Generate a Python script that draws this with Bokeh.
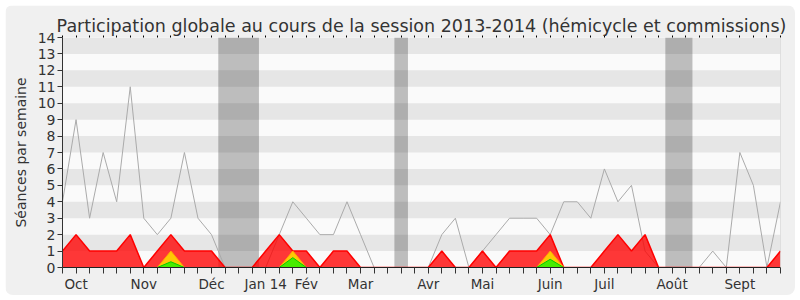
from bokeh.plotting import figure
from bokeh.models import LinearAxis, FixedTicker, Span, Range1d
from bokeh.embed import file_html
from bokeh.resources import INLINE

# Weekly data, session 2013-2014 (week index 0 .. 53)
weeks = list(range(54))
median_line = [4, 9, 3, 7, 4, 11, 3, 2, 3, 7, 3, 2, 0, 0, 0, 0, 2, 4, 3, 2,
               2, 4, 2, 0, 0, 0, 0, 0, 2, 3, 0, 1, 2, 3, 3, 3, 2, 4, 4, 3,
               6, 4, 5, 1, 0, 0, 0, 0, 1, 0, 7, 5, 0, 4]
presences = [1, 2, 1, 1, 1, 2, 0, 1, 2, 1, 1, 1, 0, 0, 0, 1, 2, 1, 1, 0,
             1, 1, 0, 0, 0, 0, 0, 0, 1, 0, 0, 1, 0, 1, 1, 1, 2, 0, 0, 0,
             1, 2, 1, 2, 0, 0, 0, 0, 0, 0, 0, 0, 0, 1]
participations = [0] * 54
participations[8] = 1
participations[17] = 1
participations[36] = 1
interventions = [0] * 54
interventions[8] = 0.35
interventions[17] = 0.6
interventions[36] = 0.5

vacation_start = [12, 25, 45]
vacation_end = [14, 25, 46]

month_weeks = [1, 6, 11, 15, 18, 22, 27, 31, 36, 40, 45, 50]
month_labels = ["Oct", "Nov", "Déc", "Jan 14", "Fév", "Mar", "Avr", "Mai",
                "Juin", "Juil", "Août", "Sept"]

y_max = 14
FONT = "DejaVu Sans"

p = figure(width=790, height=290, output_backend="svg", toolbar_location=None,
           x_range=Range1d(weeks[0], weeks[-1]), y_range=Range1d(0, y_max),
           min_border_left=57, min_border_right=15, min_border_top=32,
           min_border_bottom=28, x_axis_location=None, y_axis_location="left",
           margin=(5, 5, 5, 5))
p.styles = {"border-radius": "8px", "overflow": "hidden"}
p.title.text = "Participation globale au cours de la session 2013-2014 (hémicycle et commissions)"
p.title.text_font = FONT
p.title.text_font_size = "17.5px"
p.title.text_font_style = "normal"
p.title.text_color = "#333333"
p.title.align = "center"
p.title.standoff = 0
p.border_fill_color = "#f0f0f0"
p.background_fill_color = "#fafafa"
p.outline_line_color = None
p.xgrid.visible = False
p.ygrid.visible = False

# vacation periods
p.quad(left=[s - 0.5 for s in vacation_start], right=[e + 0.5 for e in vacation_end],
       bottom=0, top=y_max, fill_color="#bdbdbd", line_color=None)

# alternating bands
band_lo = list(range(1, y_max, 2))
p.quad(left=weeks[0], right=weeks[-1], bottom=band_lo, top=[b + 1 for b in band_lo],
       fill_color="#000000", fill_alpha=0.08, line_color=None)

# median line
p.line(weeks, median_line, line_color="#aaaaaa", line_width=1)

# presences (red)
p.varea(x=weeks, y1=0, y2=presences, fill_color="#ff0000", fill_alpha=0.78)
p.line(weeks, presences, line_color="#ff0000", line_width=1.5)
# participations (yellow)
p.varea(x=weeks, y1=0, y2=participations, fill_color="#ffd700", fill_alpha=0.9)
p.line(weeks, participations, line_color="#ffaa00", line_width=1)
# interventions (green)
p.varea(x=weeks, y1=0, y2=interventions, fill_color="#33ee00", fill_alpha=0.9)
p.line(weeks, interventions, line_color="#00cc00", line_width=1)

p.add_layout(Span(location=weeks[-1], dimension="height", line_color="#c8c8c8", line_width=1))

# y axis
ya = p.yaxis[0]
ya.ticker = FixedTicker(ticks=list(range(0, y_max + 1)))
ya.minor_tick_line_color = None
ya.major_tick_out = 5
ya.major_tick_in = 0
ya.axis_line_color = "#333333"
ya.major_tick_line_color = "#333333"
ya.major_label_text_font = FONT
ya.major_label_text_font_size = "14px"
ya.major_label_text_color = "#333333"
ya.major_label_standoff = 2
ya.axis_label = "Séances par semaine"
ya.axis_label_text_font = FONT
ya.axis_label_text_font_size = "14px"
ya.axis_label_text_font_style = "normal"
ya.axis_label_text_color = "#333333"
ya.axis_label_standoff = 6

# bottom axis
xa = LinearAxis(ticker=FixedTicker(ticks=weeks))
xa.major_label_overrides = {w: "" for w in weeks}
xa.major_label_overrides.update({w: l for w, l in zip(month_weeks, month_labels)})
xa.minor_tick_line_color = None
xa.major_tick_out = 6
xa.major_tick_in = 0
xa.axis_line_color = "#222222"
xa.major_tick_line_color = "#333333"
xa.major_label_text_font = FONT
xa.major_label_text_font_size = "13.5px"
xa.major_label_text_color = "#333333"
xa.major_label_standoff = 2
p.add_layout(xa, "below")

# top axis (tick marks only)
ta = LinearAxis(ticker=FixedTicker(ticks=weeks))
ta.major_label_overrides = {w: "" for w in weeks}
ta.major_label_text_font_size = "1px"
ta.major_label_standoff = 0
ta.minor_tick_line_color = None
ta.axis_line_color = None
ta.major_tick_out = 2
ta.major_tick_in = 0
ta.major_tick_line_color = "#000000"
p.add_layout(ta, "above")

open("out.html", "w").write(file_html(p, INLINE))
